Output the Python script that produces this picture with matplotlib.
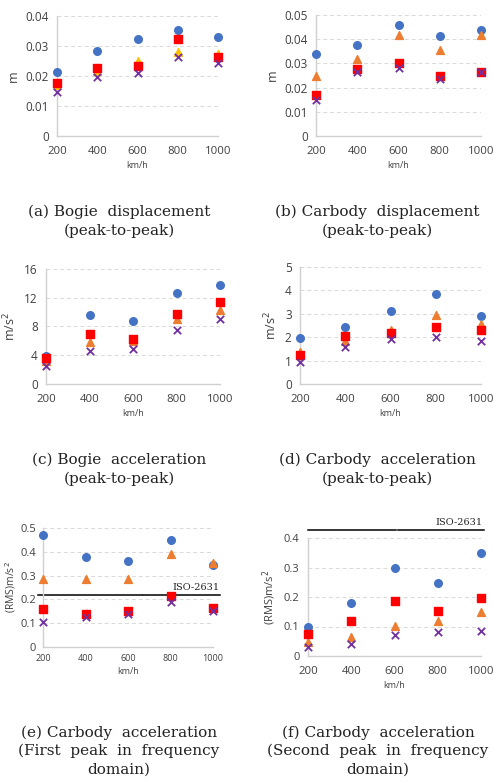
import numpy as np
import matplotlib
matplotlib.use('Agg')
import matplotlib.pyplot as plt
import matplotlib.transforms as mtrans

plt.rcParams['font.family'] = ['Open Sans', 'DejaVu Sans']

speed = [200, 400, 600, 800, 1000]

# (a) Bogie displacement
a_blue = [0.0214, 0.0284, 0.0324, 0.0354, 0.0331]
a_orange = [0.0170, 0.0217, 0.0251, 0.0281, 0.0273]
a_red = [0.0178, 0.0227, 0.0233, 0.0322, 0.0262]
a_purple = [0.0148, 0.0198, 0.0209, 0.0264, 0.0242]

# (b) Carbody displacement
b_blue = [0.0338, 0.0374, 0.0457, 0.0412, 0.0440]
b_orange = [0.0250, 0.0320, 0.0418, 0.0357, 0.0418]
b_red = [0.0169, 0.0276, 0.0302, 0.0248, 0.0265]
b_purple = [0.0148, 0.0265, 0.0279, 0.0237, 0.0263]

# (c) Bogie acceleration
c_blue = [3.9, 9.6, 8.8, 12.7, 13.8]
c_orange = [3.2, 5.9, 6.0, 9.1, 10.3]
c_red = [3.6, 7.0, 6.3, 9.7, 11.4]
c_purple = [2.5, 4.6, 4.8, 7.5, 9.0]

# (d) Carbody acceleration
d_blue = [1.97, 2.43, 3.14, 3.84, 2.90]
d_orange = [1.38, 1.82, 2.30, 2.95, 2.55]
d_red = [1.24, 2.05, 2.20, 2.45, 2.30]
d_purple = [0.93, 1.60, 1.92, 2.00, 1.82]

# (e) first peak RMS
e_blue = [0.470, 0.380, 0.360, 0.450, 0.345]
e_orange = [0.287, 0.287, 0.287, 0.392, 0.355]
e_red = [0.158, 0.140, 0.150, 0.215, 0.165]
e_purple = [0.105, 0.128, 0.137, 0.190, 0.150]

# (f) second peak RMS
f_blue = [0.100, 0.180, 0.298, 0.248, 0.350]
f_orange = [0.047, 0.064, 0.102, 0.118, 0.148]
f_red = [0.075, 0.117, 0.187, 0.153, 0.198]
f_purple = [0.032, 0.040, 0.070, 0.080, 0.086]

iso_e = 0.22
iso_f = 0.427

W, H = 493, 783
fig = plt.figure(figsize=(W / 100, H / 100), dpi=100)


def make_ax(l, r, t, b):
    return fig.add_axes([l / W, 1 - b / H, (r - l) / W, (b - t) / H])


def style(ax, ymax, ystep, ylabel, fmt, xfs=8.2, yfs=8.5, lab_fs=9, lpad=4):
    ax.set_xlim(200, 1000)
    ax.set_ylim(0, ymax)
    ax.set_xticks(speed)
    ticks = np.arange(0, ymax + ystep / 2, ystep)
    ax.set_yticks(ticks)
    ax.set_yticklabels([fmt(v) for v in ticks])
    for s in ['top', 'right']:
        ax.spines[s].set_visible(False)
    for s in ['left', 'bottom']:
        ax.spines[s].set_color('#D0D0D0')
        ax.spines[s].set_linewidth(1.0)
    ax.tick_params(length=0, colors='#404040')
    ax.tick_params(axis='x', labelsize=xfs, pad=7)
    ax.tick_params(axis='y', labelsize=yfs, pad=6)
    ax.grid(axis='y', color='#D9D9D9', linestyle=(0, (4, 3)), linewidth=0.7)
    ax.set_axisbelow(True)
    ax.set_ylabel(ylabel, fontsize=lab_fs, color='#404040', labelpad=lpad)
    ax.set_xlabel('km/h', fontsize=6.5, color='#404040', labelpad=3)


def points(ax, blue, orange, red, purple, ocol='#ED7D31'):
    ax.scatter(speed, blue, marker='o', s=30, color='#4472C4', clip_on=False, zorder=3)
    ax.scatter(speed, orange, marker='^', s=32, color=ocol, clip_on=False, zorder=4)
    ax.scatter(speed, red, marker='s', s=34, color='#FF0000', clip_on=False, zorder=5)
    ax.scatter(speed, purple, marker='x', s=28, color='#7030A0', linewidths=1.3,
               clip_on=False, zorder=6)


def caption(x, y, text):
    fig.text(x / W, 1 - y / H, text, ha='center', va='center', family='DejaVu Serif',
             fontsize=11, color='#222222', linespacing=1.4)


ax = make_ax(57, 218, 16, 136)
style(ax, 0.04, 0.01, 'm', lambda v: '0' if v == 0 else f'{v:.2f}')
points(ax, a_blue, a_orange, a_red, a_purple, ocol='#FFC000')

ax = make_ax(316, 481, 15, 136)
style(ax, 0.05, 0.01, 'm', lambda v: '0' if v == 0 else f'{v:.2f}')
points(ax, b_blue, b_orange, b_red, b_purple)

ax = make_ax(46, 220, 269, 384)
style(ax, 16, 4, 'm/s$^2$', lambda v: f'{v:.0f}')
points(ax, c_blue, c_orange, c_red, c_purple)

ax = make_ax(300, 481, 267, 384)
style(ax, 5, 1, 'm/s$^2$', lambda v: f'{v:.0f}')
points(ax, d_blue, d_orange, d_red, d_purple)

ax = make_ax(43, 213, 528, 647)
style(ax, 0.5, 0.1, '(RMS)m/s$^2$', lambda v: '0' if v == 0 else f'{v:.1f}',
      xfs=6.5, yfs=8, lab_fs=7.5, lpad=2)
ax.tick_params(axis='x', pad=5)
ax.tick_params(axis='y', pad=5)
points(ax, e_blue, e_orange, e_red, e_purple)
tr = mtrans.blended_transform_factory(ax.transAxes, ax.transData)
ax.plot([-0.03, 0.58], [iso_e, iso_e], color='black', lw=1.1, transform=tr, clip_on=False, zorder=2)
ax.plot([0.59, 1.04], [iso_e, iso_e], color='black', lw=1.1, transform=tr, clip_on=False, zorder=2)
ax.text(1.04, iso_e + 0.012, 'ISO-2631', transform=tr, ha='right', va='bottom',
        fontsize=7, family='DejaVu Serif', color='#222222')

ax = make_ax(308, 481, 538, 656)
style(ax, 0.4, 0.1, '(RMS)m/s$^2$', lambda v: '0' if v == 0 else f'{v:.1f}',
      yfs=8, lab_fs=8)
points(ax, f_blue, f_orange, f_red, f_purple)
tr = mtrans.blended_transform_factory(ax.transAxes, ax.transData)
ax.plot([0.0, 0.51], [iso_f, iso_f], color='black', lw=1.1, transform=tr, clip_on=False, zorder=2)
ax.plot([0.52, 1.02], [iso_f, iso_f], color='black', lw=1.1, transform=tr, clip_on=False, zorder=2)
ax.text(1.01, iso_f + 0.01, 'ISO-2631', transform=tr, ha='right', va='bottom',
        fontsize=7, family='DejaVu Serif', color='#222222')

caption(119, 221, '(a) Bogie  displacement\n(peak-to-peak)')
caption(377, 221, '(b) Carbody  displacement\n(peak-to-peak)')
caption(119, 469, '(c) Bogie  acceleration\n(peak-to-peak)')
caption(377, 469, '(d) Carbody  acceleration\n(peak-to-peak)')
caption(119, 751, '(e) Carbody  acceleration\n(First  peak  in  frequency\ndomain)')
caption(378, 751, '(f) Carbody  acceleration\n(Second  peak  in  frequency\ndomain)')

fig.savefig('out.png', dpi=100)
